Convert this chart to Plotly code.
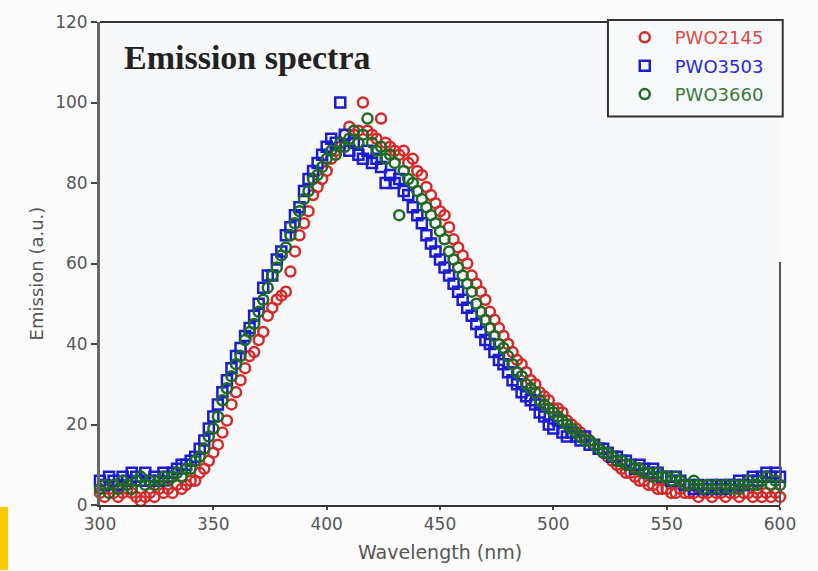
import plotly.graph_objects as go

wavelength = list(range(300, 601, 2))

pwo2145 = [
    3, 2, 4, 3, 2, 3, 4, 3, 2, 1,
    2, 3, 2, 4, 3, 4, 3, 5, 4, 5,
    6, 6, 8, 9, 11, 13, 15, 18, 21, 25,
    28, 31, 34, 37, 38, 41, 43, 47, 49, 51,
    52, 53, 58, 63, 67, 70, 73, 77, 79, 81,
    83, 86, 88, 89, 92, 94, 92, 93, 100, 93,
    92, 91, 96, 90, 89, 88, 87, 88, 85, 86,
    83, 82, 79, 77, 75, 73, 72, 69, 66, 64,
    62, 60, 57, 55, 53, 51, 48, 46, 44, 42,
    40, 38, 36, 35, 33, 31, 30, 28, 27, 26,
    24, 24, 23, 21, 20, 19, 18, 17, 16, 15,
    14, 13, 12, 11, 10, 9, 8, 8, 7, 6,
    6, 5, 5, 4, 4, 4, 3, 3, 4, 3,
    3, 3, 2, 3, 3, 2, 3, 3, 2, 3,
    3, 2, 3, 3, 2, 3, 2, 3, 2, 3,
    2,
]

pwo3503 = [
    6, 5, 7, 6, 5, 7, 6, 8, 7, 6,
    8, 6, 7, 6, 8, 7, 8, 9, 10, 10,
    11, 12, 14, 16, 19, 22, 25, 28, 31, 34,
    37, 39, 42, 44, 47, 50, 54, 57, 57, 61,
    63, 67, 69, 72, 74, 78, 81, 83, 85, 87,
    89, 91, 90, 100, 92, 88, 90, 87, 86, 88,
    85, 86, 84, 80, 82, 80, 81, 78, 77, 74,
    72, 70, 67, 65, 63, 61, 59, 57, 55, 53,
    51, 49, 47, 45, 43, 41, 40, 38, 36, 35,
    33, 31, 30, 28, 27, 26, 25, 23, 22, 20,
    19, 21, 18, 17, 18, 17, 16, 17, 15, 15,
    14, 14, 13, 12, 12, 11, 11, 10, 9, 10,
    9, 8, 9, 8, 7, 7, 6, 7, 6, 5,
    5, 4, 5, 4, 4, 5, 4, 5, 4, 5,
    5, 6, 5, 6, 7, 6, 7, 8, 7, 8,
    7,
]

pwo3660 = [
    4, 5, 3, 5, 4, 6, 5, 4, 6, 7,
    5, 6, 5, 6, 7, 6, 7, 8, 7, 9,
    9, 11, 12, 14, 17, 19, 22, 26, 29, 32,
    35, 37, 41, 43, 45, 48, 51, 54, 57, 59,
    62, 64, 67, 70, 73, 76, 78, 81, 82, 84,
    86, 88, 87, 90, 89, 91, 93, 90, 92, 96,
    90, 88, 89, 86, 87, 85, 72, 83, 81, 80,
    78, 76, 74, 72, 70, 68, 66, 63, 61, 59,
    57, 55, 53, 50, 48, 46, 44, 42, 40, 39,
    37, 35, 33, 32, 30, 29, 28, 26, 25, 24,
    23, 22, 21, 20, 19, 18, 17, 16, 16, 15,
    14, 13, 13, 12, 11, 11, 10, 10, 9, 9,
    8, 8, 7, 8, 7, 7, 6, 7, 6, 5,
    5, 6, 5, 4, 5, 4, 5, 4, 5, 4,
    5, 4, 5, 6, 5, 5, 6, 7, 5, 6,
    5,
]

names = ["PWO2145", "PWO3503", "PWO3660"]
colors = ["#d42a2a", "#1c1cd0", "#1d6a22"]
text_colors = ["#e04848", "#2828e0", "#3a7a3a"]
symbols = ["circle-open", "square-open", "circle-open"]
series = [pwo2145, pwo3503, pwo3660]

x_ticks = [300, 350, 400, 450, 500, 550, 600]
y_ticks = [0, 20, 40, 60, 80, 100, 120]

fig = go.Figure()
for name, col, tcol, sym, vals in zip(names, colors, text_colors, symbols, series):
    fig.add_trace(go.Scatter(
        x=wavelength, y=vals, mode="markers", cliponaxis=False,
        name=f'<span style="color:{tcol}">{name}</span>', legendgroup=name,
        marker=dict(symbol=sym, size=10, color=col, line=dict(width=2.5, color=col)),
    ))

tick_font = dict(family="DejaVu Sans", size=17, color="#555555")

fig.update_layout(
    width=818, height=571,
    margin=dict(l=100, r=38, t=14, b=66),
    paper_bgcolor="#fcfcfc", plot_bgcolor="#f7f8fa",
    showlegend=True,
    legend=dict(
        x=0.757, y=1.006, xanchor="left", yanchor="top",
        bgcolor="rgba(0,0,0,0)", borderwidth=0,
        font=dict(family="DejaVu Sans", size=18),
        traceorder="grouped", tracegroupgap=2, itemwidth=50,
    ),
    xaxis=dict(
        range=[300, 600], tickvals=x_ticks, ticks="outside", ticklen=3,
        tickcolor="#444", tickwidth=2, showgrid=False, zeroline=False,
        showline=True, linecolor="#333", linewidth=2, tickfont=tick_font,
    ),
    yaxis=dict(
        range=[0, 120], tickvals=y_ticks, ticks="outside", ticklen=6,
        tickcolor="#444", tickwidth=2, showgrid=False, zeroline=False,
        showline=True, linecolor="#666", linewidth=3, tickfont=tick_font,
    ),
    shapes=[
        dict(type="line", xref="paper", yref="paper", x0=0, x1=0.747, y0=1, y1=1,
             line=dict(color="#333", width=2)),
        dict(type="line", xref="paper", yref="paper", x0=1, x1=1, y0=0, y1=0.503,
             line=dict(color="#555", width=2)),
        dict(type="rect", xref="paper", yref="paper", x0=0.747, x1=1.004,
             y0=0.8045, y1=1.004, line=dict(color="#333", width=2),
             fillcolor="#f8f9fb", layer="below"),
        dict(type="rect", xref="paper", yref="paper", x0=-0.147, x1=-0.1353,
             y0=-0.004, y1=-0.1344, line=dict(width=0), fillcolor="#ffc800"),
    ],
    annotations=[
        dict(text="<b>Emission spectra</b>", xref="paper", yref="paper",
             x=0.032, y=0.927, xanchor="left", yanchor="middle", showarrow=False,
             font=dict(family="Liberation Serif", size=34, color="#222")),
        dict(text="Emission (a.u.)", xref="paper", yref="paper", textangle=-90,
             x=-0.093, y=0.479, xanchor="center", yanchor="middle", showarrow=False,
             font=dict(family="DejaVu Sans", size=18, color="#555")),
        dict(text="Wavelength (nm)", xref="paper", yref="paper",
             x=0.5, y=-0.0978, xanchor="center", yanchor="middle", showarrow=False,
             font=dict(family="DejaVu Sans", size=19, color="#555")),
    ],
)

fig.write_html("out.html")
